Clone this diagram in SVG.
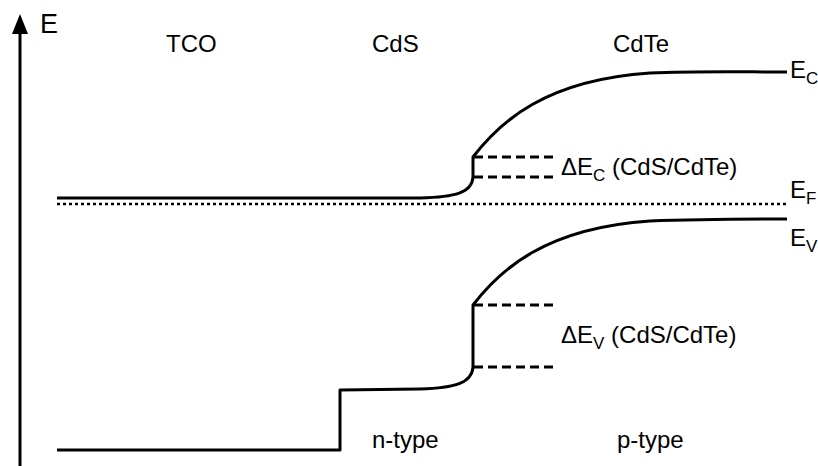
<svg xmlns="http://www.w3.org/2000/svg" width="818" height="466" viewBox="0 0 818 466">
<style>
text{font-family:"Liberation Sans",Arial,sans-serif;fill:#000;font-size:24px}
.sub{font-size:17px}
.band{fill:none;stroke:#000;stroke-width:3;stroke-linejoin:round}
.dash{fill:none;stroke:#000;stroke-width:3;stroke-dasharray:9 5}
.dot{fill:none;stroke:#000;stroke-width:2.5;stroke-dasharray:3 3}
</style>
<g id="axis">
<line x1="20" y1="466" x2="20" y2="33" stroke="#000" stroke-width="3"/>
<path d="M12,34 L20,14 L28,34 Z" fill="#000"/>
<text x="40" y="33" style="font-size:27px">E</text>
</g>
<g id="layers">
<text x="166" y="52">TCO</text>
<text x="372" y="52">CdS</text>
<text x="613" y="52">CdTe</text>
<text x="372" y="448">n-type</text>
<text x="617" y="448">p-type</text>
</g>
<g id="conduction-band">
<path class="band" d="M57,198 L420,198 C455,197 472,193 473,177 L473,157 C500,122 545,80 650,73 C700,71 740,72 787,72"/>
<text x="790" y="78">E<tspan class="sub" dy="6">C</tspan></text>
</g>
<g id="fermi-level">
<path class="dot" d="M57,204 L789,204"/>
<text x="790" y="198">E<tspan class="sub" dy="6">F</tspan></text>
</g>
<g id="valence-band">
<path class="band" d="M57,450 L340,450 L340,390 L420,389 C455,388 472,383 473,367 L473,305 C500,270 545,228 650,221 C700,219 740,219 787,219"/>
<text x="790" y="246">E<tspan class="sub" dy="6">V</tspan></text>
</g>
<g id="offsets">
<path class="dash" d="M474,157 L555,157 M474,177 L555,177"/>
<text x="561" y="175">ΔE<tspan class="sub" dy="6">C</tspan><tspan dy="-6"> (CdS/CdTe)</tspan></text>
<path class="dash" d="M474,305 L555,305 M474,367 L555,367"/>
<text x="561" y="343">ΔE<tspan class="sub" dy="6">V</tspan><tspan dy="-6"> (CdS/CdTe)</tspan></text>
</g>
</svg>
